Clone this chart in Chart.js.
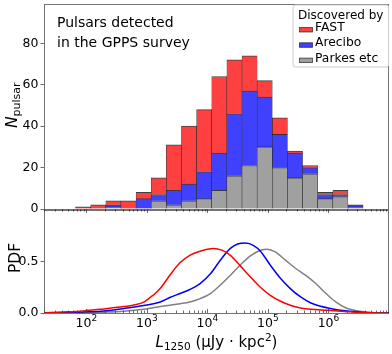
<!DOCTYPE html>
<html>
<head>
<meta charset="utf-8">
<script src="https://cdn.jsdelivr.net/npm/chart.js@4.4.1/dist/chart.umd.min.js"></script>
<style>
  html, body { margin: 0; padding: 0; background: #fff; }
  #wrap { position: relative; width: 392px; height: 354px; }
  #top { position: absolute; left: 0; top: 0; }
  #bottom { position: absolute; left: 0; top: 205px; }
</style>
</head>
<body>
<div id="wrap">
  <canvas id="top" width="392" height="216" style="width:392px;height:216px"></canvas>
  <canvas id="bottom" width="392" height="149" style="width:392px;height:149px"></canvas>
</div>
<script>
// x axis is log10(L1250), drawn on a linear scale
const xMin = Math.log10(20);
const xMax = 7;
const majorTicks = [2, 3, 4, 5, 6];
const yTicksTop = [0, 20, 40, 60, 80];
const yTicksBottom = [0, 0.5];

// histogram bins, 0.25 dex wide (centres in log10)
const binCenters = [1.947, 2.197, 2.447, 2.697, 2.947, 3.197, 3.447, 3.697, 3.947, 4.197,
                    4.447, 4.697, 4.947, 5.197, 5.447, 5.697, 5.947, 6.197, 6.447];
const parkesCounts  = [0, 0, 1, 0, 0, 4, 2, 4, 5, 9, 16, 21, 30, 20, 15, 17, 5, 6, 1];
const areciboCounts = [0, 0, 1, 0, 5, 3, 7, 8, 13, 18, 30, 36, 24, 16, 12, 3, 2, 1, 1];
const fastCounts    = [1, 2, 2, 4, 3, 8, 22, 28, 30, 37, 26, 17, 8, 8, 1, 1, 1, 2, 0];

// PDF curves
const fastX = [1.30, 1.62, 1.95, 2.29, 2.62, 2.79, 2.95, 3.05, 3.12, 3.22, 3.38, 3.55, 3.71, 3.88,
               4.00, 4.10, 4.24, 4.38, 4.54, 4.71, 4.87, 5.04, 5.21, 5.37, 5.54, 5.71, 5.98, 6.26,
               6.50, 6.80, 7.00];
const fastPdf = [0.003, 0.010, 0.020, 0.040, 0.062, 0.078, 0.105, 0.150, 0.180, 0.237, 0.367, 0.490,
                 0.560, 0.600, 0.620, 0.627, 0.610, 0.560, 0.460, 0.350, 0.253, 0.172, 0.114, 0.075,
                 0.049, 0.036, 0.026, 0.015, 0.005, 0.001, 0.0];
const areciboX = [1.30, 1.62, 1.95, 2.29, 2.62, 2.95, 3.22, 3.38, 3.55, 3.71, 3.88, 4.05, 4.21, 4.38,
                  4.50, 4.63, 4.765, 4.877, 5.04, 5.21, 5.37, 5.54, 5.71, 5.87, 6.04, 6.20, 6.37,
                  6.54, 6.70, 6.90, 7.00];
const areciboPdf = [0.0, 0.003, 0.010, 0.020, 0.043, 0.072, 0.107, 0.150, 0.190, 0.228, 0.286, 0.380,
                    0.510, 0.627, 0.670, 0.680, 0.655, 0.600, 0.464, 0.335, 0.237, 0.156, 0.097,
                    0.065, 0.043, 0.026, 0.017, 0.008, 0.003, 0.0, 0.0];
const parkesX = [1.30, 2.00, 2.30, 2.62, 2.95, 3.05, 3.22, 3.38, 3.55, 3.71, 3.88, 4.05, 4.21, 4.38,
                 4.54, 4.71, 4.88, 4.99, 5.12, 5.29, 5.46, 5.62, 5.79, 5.96, 6.12, 6.29, 6.45, 6.62,
                 6.79, 7.00];
const parkesPdf = [0.0, 0.003, 0.008, 0.017, 0.036, 0.045, 0.062, 0.075, 0.090, 0.107, 0.140, 0.189,
                   0.270, 0.367, 0.464, 0.555, 0.610, 0.620, 0.594, 0.513, 0.432, 0.367, 0.286,
                   0.189, 0.107, 0.049, 0.023, 0.010, 0.002, 0.0];

const FONT = '"DejaVu Sans", sans-serif';
Chart.defaults.font.family = FONT;
Chart.defaults.color = '#000';

const redFill = 'rgb(255,64,64)';
const blueFill = 'rgb(64,64,255)';
const grayFill = 'rgb(160,160,160)';
const frameColor = 'rgba(0,0,0,0.55)';

function barSet(label, counts, color) {
  return {
    label: label,
    data: binCenters.map((x, i) => ({ x: x, y: counts[i] || null })),
    backgroundColor: color,
    borderColor: 'rgba(0,0,0,0.75)',
    borderWidth: { top: 1, left: 0.6, right: 0.6, bottom: 0 },
    barPercentage: 1,
    categoryPercentage: 1
  };
}

function lineSet(label, xs, ys, color) {
  return {
    label: label,
    data: xs.map((x, i) => ({ x: x, y: ys[i] })),
    borderColor: color,
    borderWidth: 1.5,
    pointRadius: 0,
    fill: false,
    cubicInterpolationMode: 'monotone'
  };
}

function yAxis(min, max, ticks, fmt) {
  return {
    min: min, max: max,
    afterFit: s => { s.width = 44; s.paddingTop = 0; s.paddingBottom = 0; },
    afterBuildTicks: s => { s.ticks = ticks.map(v => ({ value: v })); },
    ticks: { font: { size: 12.5 }, color: '#000', padding: 2, callback: fmt },
    grid: { drawOnChartArea: false, tickLength: 3.5, tickColor: '#444', tickWidth: 0.8 },
    border: { display: false }
  };
}

// frame + log ticks on the x axis
function drawFrameAndTicks(chart, inward) {
  const ctx = chart.ctx, xs = chart.scales.x, a = chart.chartArea;
  ctx.save();
  ctx.strokeStyle = frameColor;
  ctx.lineWidth = 1;
  ctx.strokeRect(a.left + 0.5, a.top + 0.5, a.right - a.left - 1, a.bottom - a.top);
  ctx.strokeStyle = '#444';
  ctx.lineWidth = 0.8;
  ctx.beginPath();
  for (let d = 1; d <= 6; d++) {
    for (let k = 1; k <= 9; k++) {
      const v = d + Math.log10(k);
      if (v < xs.min || v > xs.max) continue;
      const px = Math.round(xs.getPixelForValue(v)) + 0.5;
      const len = k === 1 ? 4 : 2.5;
      ctx.moveTo(px, a.bottom);
      ctx.lineTo(px, inward ? a.bottom - len : a.bottom + len);
    }
  }
  ctx.stroke();
  ctx.restore();
}

// draws a run of [text, fontsize, italic, dy] pieces starting at x
function drawPieces(ctx, pieces, x, y) {
  let cx = x;
  pieces.forEach(p => {
    ctx.font = (p[2] ? 'italic ' : '') + p[1] + 'px ' + FONT;
    ctx.fillText(p[0], cx, y + p[3]);
    cx += ctx.measureText(p[0]).width;
  });
  return cx - x;
}
function piecesWidth(ctx, pieces) {
  let w = 0;
  pieces.forEach(p => {
    ctx.font = (p[2] ? 'italic ' : '') + p[1] + 'px ' + FONT;
    w += ctx.measureText(p[0]).width;
  });
  return w;
}

const topDecor = {
  id: 'topDecor',
  afterDraw(chart) {
    const ctx = chart.ctx;
    drawFrameAndTicks(chart, false);
    ctx.save();
    ctx.fillStyle = '#000';
    ctx.textBaseline = 'alphabetic';

    // y title N_pulsar
    const yTitle = [['N', 15.5, true, 0], ['pulsar', 11, false, 3]];
    ctx.translate(17, 128);
    ctx.rotate(-Math.PI / 2);
    drawPieces(ctx, yTitle, 0, 0);
    ctx.setTransform(1, 0, 0, 1, 0, 0);

    // annotation
    ctx.font = '14px ' + FONT;
    ctx.fillText('Pulsars detected', 57, 27);
    ctx.fillText('in the GPPS survey', 57, 47);

    // legend
    ctx.beginPath();
    ctx.roundRect(293, 5, 95.5, 62, 2);
    ctx.fillStyle = 'rgba(255,255,255,0.85)';
    ctx.fill();
    ctx.strokeStyle = '#ccc';
    ctx.lineWidth = 1;
    ctx.stroke();
    ctx.fillStyle = '#000';
    ctx.font = '12px ' + FONT;
    ctx.fillText('Discovered by', 298, 19);
    const items = chart.data.datasets.slice().reverse();
    items.forEach((ds, i) => {
      const base = 31 + i * 15.3;
      ctx.fillStyle = ds.backgroundColor;
      ctx.fillRect(299.5, base - 3.5, 13, 4.5);
      ctx.strokeStyle = 'rgba(0,0,0,0.7)';
      ctx.lineWidth = 0.8;
      ctx.strokeRect(299.5, base - 3.5, 13, 4.5);
      ctx.fillStyle = '#000';
      ctx.font = '12.3px ' + FONT;
      ctx.fillText(ds.label, 315, base);
    });
    ctx.restore();
  }
};

const bottomDecor = {
  id: 'bottomDecor',
  afterDraw(chart) {
    const ctx = chart.ctx, xs = chart.scales.x, a = chart.chartArea;
    drawFrameAndTicks(chart, true);
    ctx.save();
    ctx.fillStyle = '#000';
    ctx.textBaseline = 'alphabetic';

    // x tick labels 10^n
    majorTicks.forEach(m => {
      const pcs = [['10', 12.5, false, 0], [String(m), 9, false, -5.5]];
      const w = piecesWidth(ctx, pcs);
      drawPieces(ctx, pcs, xs.getPixelForValue(m) - w / 2, a.bottom + 13.7);
    });

    // x title
    const xt = [['L', 15, true, 0], ['1250', 10.5, false, 3], [' (\u03bcJy \u00b7 kpc', 15, false, 0],
                ['2', 10.5, false, -6], [')', 15, false, 0]];
    const wx = piecesWidth(ctx, xt);
    drawPieces(ctx, xt, (a.left + a.right) / 2 - wx / 2, a.bottom + 33.7);

    // y title
    ctx.font = '15.5px ' + FONT;
    ctx.translate(19.5, 53);
    ctx.rotate(-Math.PI / 2);
    ctx.textAlign = 'center';
    ctx.fillText('PDF', 0, 0);
    ctx.restore();
  }
};

new Chart(document.getElementById('top'), {
  type: 'bar',
  data: {
    datasets: [
      barSet('Parkes etc', parkesCounts, grayFill),
      barSet('Arecibo', areciboCounts, blueFill),
      barSet('FAST', fastCounts, redFill)
    ]
  },
  options: {
    responsive: false,
    animation: false,
    layout: { padding: { left: 0, right: 3, top: 4, bottom: 7 } },
    plugins: { legend: { display: false }, tooltip: { enabled: false } },
    scales: {
      x: { type: 'linear', min: xMin, max: xMax, stacked: true, offset: false, display: false },
      y: Object.assign(yAxis(0, 99, yTicksTop, v => String(v)), { stacked: true })
    }
  },
  plugins: [topDecor]
});

new Chart(document.getElementById('bottom'), {
  type: 'line',
  data: {
    datasets: [
      lineSet('FAST', fastX, fastPdf, '#ff0000'),
      lineSet('Arecibo', areciboX, areciboPdf, '#0000ff'),
      lineSet('Parkes etc', parkesX, parkesPdf, '#808080')
    ]
  },
  options: {
    responsive: false,
    animation: false,
    layout: { padding: { left: 0, right: 3, top: 5, bottom: 41 } },
    plugins: { legend: { display: false }, tooltip: { enabled: false } },
    scales: {
      x: { type: 'linear', min: xMin, max: xMax, display: false },
      y: yAxis(0, 1, yTicksBottom, v => v.toFixed(1))
    }
  },
  plugins: [bottomDecor]
});
</script>
</body>
</html>
